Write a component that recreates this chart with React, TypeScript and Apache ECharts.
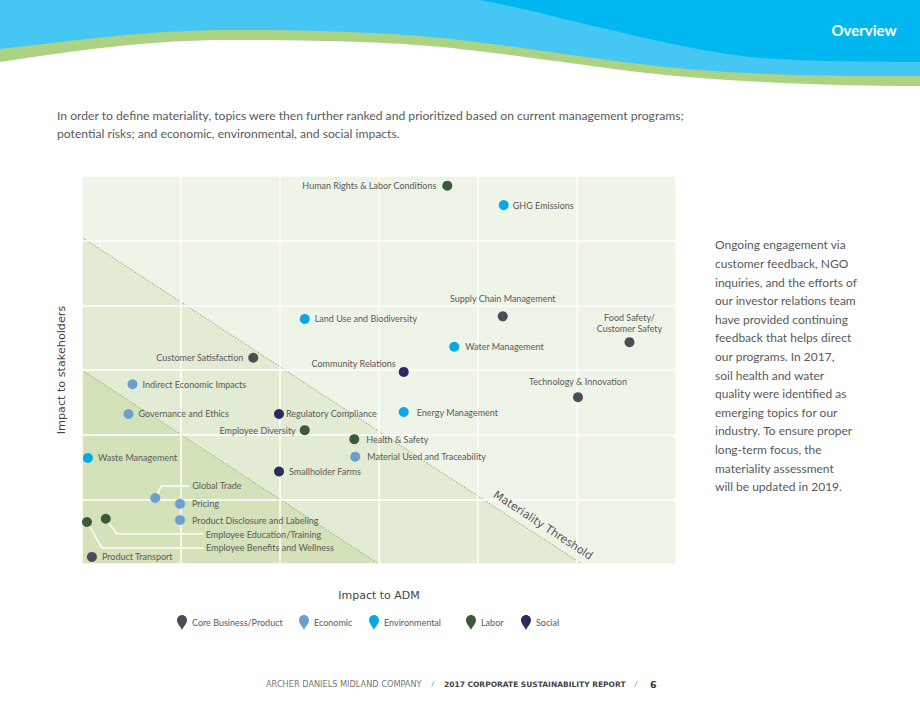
import React, { useEffect, useRef } from 'react';
import * as echarts from 'echarts';

// ---------- data ----------
const categories = ['Core Business/Product', 'Economic', 'Environmental', 'Labor', 'Social'];
const categoryColors = ['#4a4e54', '#6c9fd0', '#0aa7e6', '#3d593b', '#272c5c'];

const topicNames = [
  'Human Rights & Labor Conditions',
  'GHG Emissions',
  'Supply Chain Management',
  'Food Safety/\nCustomer Safety',
  'Land Use and Biodiversity',
  'Water Management',
  'Customer Satisfaction',
  'Community Relations',
  'Technology & Innovation',
  'Indirect Economic Impacts',
  'Governance and Ethics',
  'Regulatory Compliance',
  'Energy Management',
  'Employee Diversity',
  'Health & Safety',
  'Waste Management',
  'Material Used and Traceability',
  'Smallholder Farms',
  'Global Trade',
  'Pricing',
  'Product Disclosure and Labeling',
  'Employee Education/Training',
  'Employee Benefits and Wellness',
  'Product Transport',
];
const impactToADM = [3.69, 4.26, 4.25, 5.53, 2.25, 3.76, 1.73, 3.25, 5.01, 0.51, 0.47, 1.99, 3.25, 2.25, 2.75, 0.06, 2.76, 1.99, 0.74, 0.99, 0.99, 0.24, 0.05, 0.1];
const impactToStakeholders = [5.85, 5.55, 3.83, 3.43, 3.79, 3.36, 3.19, 2.97, 2.58, 2.78, 2.32, 2.32, 2.35, 2.07, 1.93, 1.64, 1.66, 1.43, 1.02, 0.93, 0.68, 0.7, 0.65, 0.11];
const topicCategory = [3, 2, 0, 0, 2, 2, 0, 4, 0, 1, 1, 4, 2, 3, 3, 2, 1, 4, 1, 1, 1, 3, 3, 0];

const thresholdLine = [[0, 5.05], [5.05, 0]];
const lowerBandLine = [[0, 3], [3, 0]];
const axisMin = 0;
const axisMax = 6;
const axisInterval = 1;

const introLines = [
  'In order to define materiality, topics were then further ranked and prioritized based on current management programs;',
  'potential risks; and economic, environmental, and social impacts.',
];
const sideLines = [
  'Ongoing engagement via',
  'customer feedback, NGO',
  'inquiries, and the efforts of',
  'our investor relations team',
  'have provided continuing',
  'feedback that helps direct',
  'our programs. In 2017,',
  'soil health and water',
  'quality were identified as',
  'emerging topics for our',
  'industry. To ensure proper',
  'long-term focus, the',
  'materiality assessment',
  'will be updated in 2019.',
];

// ---------- label styling (presentation only) ----------
type Placement = { position: string; distance: number; offset?: number[]; align?: string };
const labelPlacement: Record<string, Placement> = {
  'Human Rights & Labor Conditions': { position: 'left', distance: 6 },
  'GHG Emissions': { position: 'right', distance: 4 },
  'Supply Chain Management': { position: 'top', distance: 7 },
  'Food Safety/\nCustomer Safety': { position: 'top', distance: 3, align: 'center' },
  'Land Use and Biodiversity': { position: 'right', distance: 5 },
  'Water Management': { position: 'right', distance: 6 },
  'Customer Satisfaction': { position: 'left', distance: 5 },
  'Community Relations': { position: 'left', distance: 3, offset: [0, -8] },
  'Technology & Innovation': { position: 'top', distance: 5 },
  'Indirect Economic Impacts': { position: 'right', distance: 5 },
  'Governance and Ethics': { position: 'right', distance: 5 },
  'Regulatory Compliance': { position: 'right', distance: 2 },
  'Energy Management': { position: 'right', distance: 8 },
  'Employee Diversity': { position: 'left', distance: 4 },
  'Health & Safety': { position: 'right', distance: 7 },
  'Waste Management': { position: 'right', distance: 5 },
  'Material Used and Traceability': { position: 'right', distance: 7 },
  'Smallholder Farms': { position: 'right', distance: 5 },
  'Global Trade': { position: 'right', distance: 32, offset: [0, -13] },
  'Pricing': { position: 'right', distance: 7 },
  'Product Disclosure and Labeling': { position: 'right', distance: 7 },
  'Employee Education/Training': { position: 'right', distance: 95, offset: [0, 16] },
  'Employee Benefits and Wellness': { position: 'right', distance: 114, offset: [0, 26] },
  'Product Transport': { position: 'right', distance: 5 },
};
// leader lines, pixel offsets from the dot
const leaderOffsets: Record<string, number[][]> = {
  'Global Trade': [[0, 0], [6, -12], [34, -12]],
  'Employee Education/Training': [[0, 0], [11, 15], [98, 15]],
  'Employee Benefits and Wellness': [[0, 0], [15, 26], [117, 26]],
};

const headerGreen = 'M0,0 L920,0 L920,86 C850,86 780,84 700,78 C620,72 560,60 460,49 C400,42 320,40 230,40 C150,40 80,50 0,62 Z';
const headerLight = 'M0,0 L920,0 L920,76 C850,76 780,76 700,70 C620,64 560,52 460,40 C400,33 320,30 230,30 C150,30 80,40 0,49 Z';
const headerDark = 'M480,0 L920,0 L920,62 C850,62 790,61 750,57 C690,50 620,32 560,18 C530,10 500,4 480,0 Z';

echarts.graphic.registerShape('hdrGreen', echarts.graphic.extendPath(headerGreen, {}));
echarts.graphic.registerShape('hdrLight', echarts.graphic.extendPath(headerLight, {}));
echarts.graphic.registerShape('hdrDark', echarts.graphic.extendPath(headerDark, {}));

const PIN_ICON = 'path://M5,0 C2.2,0 0,2.3 0,5.2 C0,8.6 3.6,11.6 5,15 C6.4,11.6 10,8.6 10,5.2 C10,2.3 7.8,0 5,0 Z';

const FONT = 'Lato, "Open Sans", sans-serif';
const WIDE = '"DejaVu Sans", sans-serif';

export default function App() {
  const ref = useRef<HTMLDivElement>(null);
  useEffect(() => {
    document.body.style.margin = '0';
    const chart = echarts.init(ref.current!, null, { renderer: 'svg' });

    const scatterSeries = categories.map((cat, ci) => ({
      type: 'scatter',
      name: cat,
      z: 4,
      symbolSize: 10,
      itemStyle: { color: categoryColors[ci], opacity: 1 },
      label: {
        show: true,
        formatter: '{b}',
        color: '#5a5a5a',
        fontSize: 9,
        fontFamily: FONT,
        lineHeight: 11,
      },
      emphasis: { disabled: true },
      data: topicNames
        .map((n, i) => ({ n, i }))
        .filter((d) => topicCategory[d.i] === ci)
        .map(({ n, i }) => {
          const p = labelPlacement[n] || { position: 'right', distance: 5 };
          const label: any = { position: p.position, distance: p.distance };
          if (p.offset) label.offset = p.offset;
          if (p.align) label.align = p.align;
          return { name: n, value: [impactToADM[i], impactToStakeholders[i]], label };
        }),
    }));

    const leaderData = topicNames
      .map((n, i) => ({ n, i }))
      .filter((d) => leaderOffsets[d.n])
      .map(({ n, i }) => ({ name: n, value: [impactToADM[i], impactToStakeholders[i]] }));

    const option: any = {
      animation: false,
      grid: {
        left: 82,
        top: 176,
        width: 594,
        height: 388,
        show: true,
        backgroundColor: '#eef4e7',
        borderWidth: 0,
      },
      xAxis: {
        type: 'value',
        min: axisMin,
        max: axisMax,
        interval: axisInterval,
        z: 2,
        name: 'Impact to ADM',
        nameLocation: 'middle',
        nameGap: 26,
        nameTextStyle: { color: '#444', fontSize: 11, fontFamily: WIDE },
        axisLine: { show: false },
        axisTick: { show: false },
        axisLabel: { show: false },
        splitLine: { show: true, lineStyle: { color: '#ffffff', width: 1.5 } },
      },
      yAxis: {
        type: 'value',
        min: axisMin,
        max: axisMax,
        interval: axisInterval,
        z: 2,
        name: 'Impact to stakeholders',
        nameLocation: 'middle',
        nameGap: 15,
        nameRotate: 90,
        nameTextStyle: { color: '#444', fontSize: 11.2, fontFamily: WIDE },
        axisLine: { show: false },
        axisTick: { show: false },
        axisLabel: { show: false },
        splitLine: { show: true, lineStyle: { color: '#ffffff', width: 1.5 } },
      },
      legend: categories.map((c, i) => ({
        data: [{ name: c, icon: PIN_ICON }],
        left: [177, 299, 369, 466, 521][i],
        top: 615,
        padding: 0,
        itemWidth: 10,
        itemHeight: 15,
        selectedMode: false,
        textStyle: { color: '#5a5a5a', fontSize: 9, fontFamily: FONT },
      })),
      graphic: [
        { type: 'hdrGreen', x: 0, y: 0, style: { fill: '#acd283' } },
        { type: 'hdrLight', x: 0, y: 0, style: { fill: '#45c6f3' } },
        { type: 'hdrDark', x: 0, y: 0, style: { fill: '#00b8ef' } },
        {
          type: 'text',
          x: 864,
          y: 30,
          style: { text: 'Overview', fill: '#ffffff', fontSize: 15, fontWeight: 'bold', fontFamily: FONT, align: 'center', verticalAlign: 'middle' },
        },
        ...introLines.map((t, i) => ({
          type: 'text',
          x: 57,
          y: 115 + i * 18,
          style: { text: t, fill: '#595959', fontSize: 12.15, fontFamily: FONT, verticalAlign: 'middle' },
        })),
        {
          type: 'text',
          x: 715,
          y: 235.5,
          style: { text: sideLines.join('\n'), fill: '#595959', fontSize: 12, lineHeight: 18.6, fontFamily: FONT, verticalAlign: 'top' },
        },
        {
          type: 'text',
          x: 266,
          y: 684,
          style: { text: 'ARCHER DANIELS MIDLAND COMPANY', fill: '#777', fontSize: 8.2, fontFamily: WIDE, verticalAlign: 'middle' },
        },
        { type: 'text', x: 431, y: 684, style: { text: '/', fill: '#777', fontSize: 8, fontFamily: FONT, verticalAlign: 'middle' } },
        {
          type: 'text',
          x: 444,
          y: 684,
          style: { text: '2017 CORPORATE SUSTAINABILITY REPORT', fill: '#444', fontSize: 7.5, fontWeight: 'bold', fontFamily: WIDE, verticalAlign: 'middle' },
        },
        { type: 'text', x: 634, y: 684, style: { text: '/', fill: '#777', fontSize: 8, fontFamily: FONT, verticalAlign: 'middle' } },
        { type: 'text', x: 650, y: 684, style: { text: '6', fill: '#333', fontSize: 9.5, fontWeight: 'bold', fontFamily: WIDE, verticalAlign: 'middle' } },
      ],
      series: [
        {
          type: 'custom',
          name: 'bands',
          z: 1,
          silent: true,
          data: [[0, 0]],
          renderItem: (_p: any, api: any) => {
            const c = (pt: number[]) => api.coord(pt);
            const o = c([0, 0]);
            const t0 = c(thresholdLine[0]);
            const t1 = c(thresholdLine[1]);
            const l0 = c(lowerBandLine[0]);
            const l1 = c(lowerBandLine[1]);
            return {
              type: 'group',
              children: [
                { type: 'polygon', shape: { points: [o, t0, t1] }, style: { fill: '#e2ebd3' } },
                { type: 'polygon', shape: { points: [o, l0, l1] }, style: { fill: '#d3e2b9' } },
                { type: 'line', shape: { x1: t0[0], y1: t0[1], x2: t1[0], y2: t1[1] }, style: { stroke: '#a9bf86', lineWidth: 1.2, lineDash: [1.5, 1.5] } },
                { type: 'line', shape: { x1: l0[0], y1: l0[1], x2: l1[0], y2: l1[1] }, style: { stroke: '#a9bf86', lineWidth: 1.2, lineDash: [1.5, 1.5] } },
              ],
            };
          },
        },
        {
          type: 'custom',
          name: 'threshold label',
          z: 5,
          silent: true,
          data: [[0, 0]],
          renderItem: (_p: any, api: any) => {
            const t0 = api.coord(thresholdLine[0]);
            const t1 = api.coord(thresholdLine[1]);
            const dx = t1[0] - t0[0];
            const dy = t1[1] - t0[1];
            const len = Math.sqrt(dx * dx + dy * dy);
            const ux = dx / len;
            const uy = dy / len;
            const f = 0.91;
            const px = t0[0] + dx * f + uy * 11;
            const py = t0[1] + dy * f - ux * 11;
            return {
              type: 'text',
              x: px,
              y: py,
              rotation: -Math.atan2(dy, dx),
              style: {
                text: 'Materiality Threshold',
                fill: '#555',
                fontSize: 11,
                fontFamily: WIDE,
                align: 'center',
                verticalAlign: 'middle',
              },
            };
          },
        },
        {
          type: 'custom',
          name: 'leaders',
          z: 3,
          silent: true,
          data: leaderData,
          renderItem: (params: any, api: any) => {
            const d = leaderData[params.dataIndex];
            const p = api.coord([api.value(0), api.value(1)]);
            const offs = leaderOffsets[d.name];
            return {
              type: 'polyline',
              shape: { points: offs.map((o) => [p[0] + o[0], p[1] + o[1]]) },
              style: { stroke: '#ffffff', lineWidth: 1.5, fill: null },
            };
          },
        },
        ...scatterSeries,
      ],
    };
    chart.setOption(option);
    return () => chart.dispose();
  }, []);
  return <div ref={ref} style={{ width: 920, height: 711 }} />;
}
